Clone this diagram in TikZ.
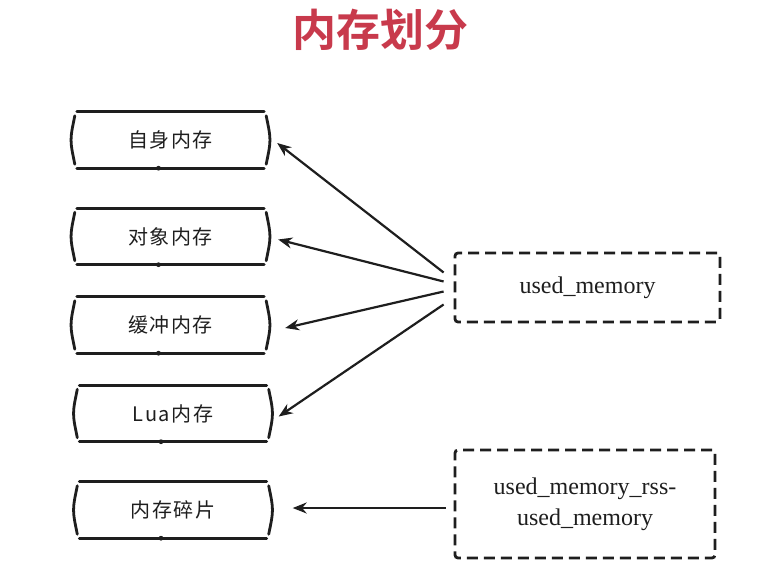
\documentclass[tikz,border=0pt]{standalone}
\usepackage{fontspec}
\setmainfont{Liberation Serif}
\newfontfamily\cjk[LetterSpace=8]{Noto Sans CJK SC}
\newfontfamily\cjkb{Noto Sans CJK SC Bold}
\usetikzlibrary{arrows.meta}
\definecolor{ink}{HTML}{1E1E1E}
\definecolor{titlered}{HTML}{C83A4C}
\tikzset{
  boxnode/.style={minimum width=195pt,minimum height=56pt,inner sep=0pt,font=\cjk\fontsize{20}{24}\selectfont,text=ink},
  sketch/.style={draw=ink,line width=2.8pt,line cap=round},
  dashbox/.style={draw=ink,line width=2.8pt,dash pattern=on 11pt off 6pt,rounded corners=3pt,inner sep=0pt,font=\fontsize{24}{31}\selectfont,text=ink,align=center},
  conn/.style={draw=ink,line width=2.2pt,-{Stealth[length=14pt,width=11pt]}}
}
\newcommand{\sketchframe}[1]{%
  \draw[sketch] ([xshift=4pt]#1.north west) -- ([xshift=-4pt]#1.north east);
  \draw[sketch] ([xshift=4pt]#1.south west) -- ([xshift=-4pt]#1.south east);
  \draw[sketch] ([shift={(2pt,-4pt)}]#1.north west) .. controls ([xshift=-3pt]#1.west) and ([xshift=-3pt]#1.west) .. ([shift={(2pt,4pt)}]#1.south west);
  \draw[sketch] ([shift={(-2pt,-4pt)}]#1.north east) .. controls ([xshift=3pt]#1.east) and ([xshift=3pt]#1.east) .. ([shift={(-2pt,4pt)}]#1.south east);
  \fill[ink] ([xshift=-12pt]#1.south) circle (2.4pt);
}
\begin{document}
\begin{tikzpicture}[x=1pt,y=-1pt]
\useasboundingbox[fill=white] (0,0) rectangle (757,575);
\node[font=\cjkb\fontsize{44}{48}\selectfont,text=titlered] (title) at (380,30) {内存划分};

\node[boxnode] (b1) at (170.5,140) {自身内存};
\node[boxnode] (b2) at (170.5,236.5) {对象内存};
\node[boxnode] (b3) at (170.5,325) {缓冲内存};
\node[boxnode] (b4) at (173,413.5) {Lua内存};
\node[boxnode] (b5) at (173,510) {内存碎片};
\foreach \n in {b1,b2,b3,b4,b5} {\sketchframe{\n}}

\node[dashbox,minimum width=265pt,minimum height=69pt] (um) at (587.5,287.5) {\raisebox{-3pt}{used\_memory}};
\node[dashbox,minimum width=260pt,minimum height=108pt] (rss) at (585,504) {used\_memory\_rss-\\used\_memory};

\draw[conn] ([shift={(-10pt,15pt)}]um.west) -- ([shift={(9pt,-3pt)}]b1.east);
\draw[conn] ([shift={(-10pt,6pt)}]um.west) -- ([shift={(10pt,-3pt)}]b2.east);
\draw[conn] ([shift={(-10pt,-4pt)}]um.west) -- ([shift={(17pt,-3pt)}]b3.east);
\draw[conn] ([shift={(-10pt,-17pt)}]um.west) -- ([shift={(8pt,-3pt)}]b4.east);
\draw[conn] ([shift={(-8pt,-4pt)}]rss.west) -- ([shift={(22pt,2pt)}]b5.east);
\end{tikzpicture}
\end{document}
